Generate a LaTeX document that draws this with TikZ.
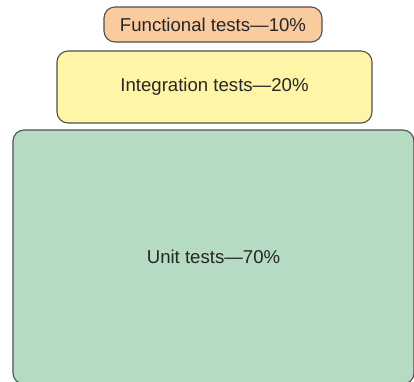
\documentclass[tikz,border=0pt]{standalone}
\usepackage{fontspec}
\setmainfont{Liberation Sans}
\definecolor{functionalfill}{RGB}{251,203,160}
\definecolor{integrationfill}{RGB}{255,245,166}
\definecolor{unitfill}{RGB}{181,220,194}
\definecolor{boxline}{RGB}{80,80,80}
\tikzset{
  testbox/.style={draw=boxline,line width=1.1pt,rounded corners=11bp,
    inner sep=0pt,font=\fontsize{18.6bp}{22bp}\selectfont,text=black!85}
}
\begin{document}
\begin{tikzpicture}[x=1bp,y=-1bp]
\useasboundingbox (0,0) rectangle (414,382);
\begin{scope}
\clip (0,0) rectangle (414,382);
\node[testbox,fill=unitfill,minimum width=401bp,minimum height=254bp] (unit) at (213.5,257) {Unit tests---70\%};
\end{scope}
\node[testbox,fill=integrationfill,minimum width=315bp,minimum height=72bp] (integration) at (214.5,87) {Integration tests---20\%};
\node[testbox,fill=functionalfill,minimum width=218bp,minimum height=35bp] (functional) at (213,24.5) {Functional tests---10\%};
\end{tikzpicture}
\end{document}
